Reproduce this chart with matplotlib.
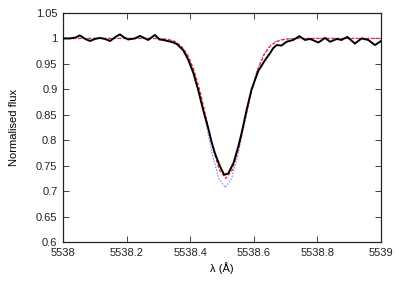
import matplotlib
matplotlib.use("Agg")
import matplotlib.pyplot as plt

plt.rcParams['font.family'] = ['Liberation Sans', 'DejaVu Sans']

# Observed spectrum (offset from 5538 Å, normalised flux)
obs_dl = [0.000, 0.022, 0.040, 0.053, 0.070, 0.085, 0.100, 0.116, 0.132, 0.148,
          0.165, 0.179, 0.192, 0.205, 0.226, 0.242, 0.268, 0.289, 0.303, 0.315,
          0.336, 0.347, 0.358, 0.378, 0.394, 0.410, 0.425, 0.441, 0.457, 0.467,
          0.478, 0.494, 0.507, 0.520, 0.536, 0.551, 0.562, 0.578, 0.593, 0.614,
          0.635, 0.651, 0.661, 0.672, 0.687, 0.703, 0.724, 0.743, 0.761, 0.777,
          0.803, 0.824, 0.840, 0.861, 0.876, 0.894, 0.918, 0.939, 0.960, 0.981,
          0.997, 1.000]
obs_flux = [1.000, 1.000, 1.002, 1.006, 0.999, 0.995, 0.999, 1.001, 0.999, 0.995,
            1.003, 1.008, 1.002, 0.998, 1.000, 1.005, 0.997, 1.007, 0.998, 0.997,
            0.994, 0.992, 0.989, 0.977, 0.958, 0.932, 0.899, 0.859, 0.823, 0.797,
            0.774, 0.748, 0.732, 0.735, 0.755, 0.787, 0.815, 0.861, 0.900, 0.936,
            0.957, 0.971, 0.981, 0.987, 0.986, 0.9935, 0.997, 1.0045, 0.997, 0.999,
            0.992, 1.001, 0.9935, 0.999, 0.997, 1.003, 0.990, 1.000, 0.997, 0.987,
            0.9935, 0.995]

# Model 1 (red dashed)
red_dl = [0.000, 0.272, 0.292, 0.312, 0.332, 0.352, 0.372, 0.392, 0.412, 0.432,
          0.452, 0.472, 0.492, 0.512, 0.532, 0.552, 0.572, 0.592, 0.612, 0.632,
          0.652, 0.672, 0.692, 0.712, 0.732, 0.752, 1.000]
red_flux = [1.000, 1.000, 0.9998, 0.9993, 0.9978, 0.9939, 0.985, 0.9676, 0.938, 0.894,
            0.839, 0.783, 0.741, 0.725, 0.741, 0.783, 0.839, 0.894, 0.938, 0.9676,
            0.985, 0.9939, 0.9978, 0.9993, 0.9998, 1.000, 1.000]

# Model 2 (blue dotted)
blue_dl = [0.000, 0.270, 0.290, 0.310, 0.330, 0.350, 0.370, 0.390, 0.410, 0.430,
           0.450, 0.470, 0.490, 0.510, 0.530, 0.550, 0.570, 0.590, 0.610, 0.630,
           0.650, 0.670, 0.690, 0.710, 0.730, 0.750, 1.000]
blue_flux = [1.000, 1.000, 0.9998, 0.9994, 0.998, 0.9943, 0.9856, 0.968, 0.937, 0.8906,
             0.8315, 0.771, 0.7245, 0.707, 0.7245, 0.771, 0.8315, 0.8906, 0.937, 0.968,
             0.9856, 0.9943, 0.998, 0.9994, 0.9998, 1.000, 1.000]

x0 = 5538.0
xticks = [5538, 5538.2, 5538.4, 5538.6, 5538.8, 5539]
xticklabels = ["5538", "5538.2", "5538.4", "5538.6", "5538.8", "5539"]
yticks = [0.6, 0.65, 0.7, 0.75, 0.8, 0.85, 0.9, 0.95, 1.0, 1.05]
yticklabels = ["0.6", "0.65", "0.7", "0.75", "0.8", "0.85", "0.9", "0.95", "1", "1.05"]

fig = plt.figure(figsize=(3.99, 2.81), dpi=100)
ax = fig.add_axes([63/399, 1 - 242/281, (381-63)/399, (242-13)/281])

ax.plot([x0 + d for d in blue_dl], blue_flux, color='#8888ff', lw=0.9,
        linestyle=(0, (1.2, 1.2)), zorder=2)
ax.plot([x0 + d for d in red_dl], red_flux, color='#ff2222', lw=0.9,
        linestyle=(0, (2.5, 1.5)), zorder=3)
ax.plot([x0 + d for d in obs_dl], obs_flux, color='black', lw=1.4, zorder=4)

ax.set_xlim(5538, 5539)
ax.set_ylim(0.6, 1.05)
ax.set_xticks(xticks)
ax.set_xticklabels(xticklabels)
ax.set_yticks(yticks)
ax.set_yticklabels(yticklabels)
ax.tick_params(direction='in', length=4, width=0.6, top=True, right=True,
               labelsize=8, pad=4, colors='#222222')
for s in ax.spines.values():
    s.set_linewidth(0.9)
    s.set_color('#222222')

ax.set_xlabel("λ (Å)", fontsize=8, labelpad=3)
ax.set_ylabel("Normalised flux", fontsize=8, labelpad=12)

fig.savefig("out.png", dpi=100)
